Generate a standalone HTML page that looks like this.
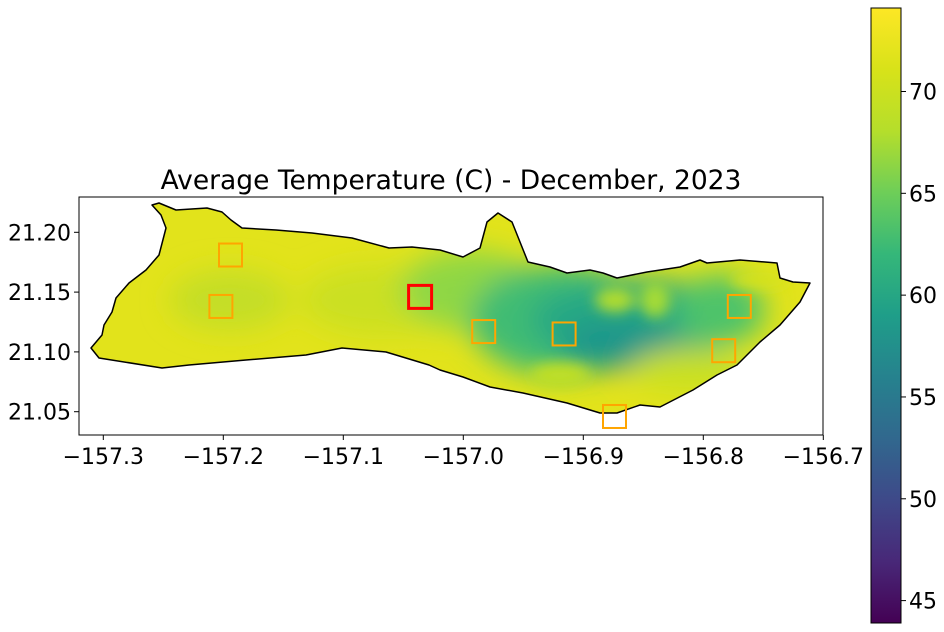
<!DOCTYPE html>
<html><head><meta charset="utf-8"><style>
html,body{margin:0;padding:0;background:#fff;}
svg{display:block;font-family:"DejaVu Sans","Liberation Sans",sans-serif;}
</style></head><body>
<svg id="chart" width="944" height="632" viewBox="0 0 944 632">
<defs>
<linearGradient id="viridis" x1="0" y1="1" x2="0" y2="0">
<stop offset="0" stop-color="#440154"/><stop offset="0.1" stop-color="#482878"/>
<stop offset="0.2" stop-color="#3e4989"/><stop offset="0.3" stop-color="#31688e"/>
<stop offset="0.4" stop-color="#26828e"/><stop offset="0.5" stop-color="#1f9e89"/>
<stop offset="0.6" stop-color="#35b779"/><stop offset="0.7" stop-color="#6ece58"/>
<stop offset="0.8" stop-color="#b5de2b"/><stop offset="0.9" stop-color="#d8e219"/>
<stop offset="1" stop-color="#fde725"/></linearGradient>
<clipPath id="island-clip"><path id="clip-path"/></clipPath>
<filter id="blur" x="-50%" y="-50%" width="200%" height="200%"><feGaussianBlur stdDeviation="14"/></filter>
<filter id="blur2" x="-50%" y="-50%" width="200%" height="200%"><feGaussianBlur stdDeviation="7"/></filter>
</defs>
<text x="451" y="189" font-size="26.5" text-anchor="middle">Average Temperature (C) - December, 2023</text>
<g id="map"></g>
<rect x="79" y="197" width="744" height="238" fill="none" stroke="#000" stroke-width="1"/>
<g id="xaxis"></g>
<g id="yaxis"></g>
<rect x="871" y="8" width="30" height="615" fill="url(#viridis)" stroke="#000" stroke-width="1"/>
<g id="cbaxis"></g>
</svg>
<script>
const xTicks=[-157.3,-157.2,-157.1,-157.0,-156.9,-156.8,-156.7];
const xTickLabels=["−157.3","−157.2","−157.1","−157.0","−156.9","−156.8","−156.7"];
const yTicks=[21.05,21.10,21.15,21.20];
const yTickLabels=["21.05","21.10","21.15","21.20"];
const cbTicks=[45,50,55,60,65,70];
const stationLon=[-157.194,-157.202,-156.983,-156.916,-156.874,-156.783,-156.770];
const stationLat=[21.181,21.138,21.117,21.115,21.046,21.101,21.138];
const selectedLon=[-157.036];
const selectedLat=[21.146];
const cbMin=43.9, cbMax=74.1;

const NS="http://www.w3.org/2000/svg";
const X=lon=>103.3+(lon+157.3)*1200;
const Y=lat=>232.3-(lat-21.20)*1196;
const CB=v=>623-(v-cbMin)/(cbMax-cbMin)*615;
function mk(tag,attrs,parent){const e=document.createElementNS(NS,tag);for(const k in attrs)e.setAttribute(k,attrs[k]);parent.appendChild(e);return e;}

const outline="M152,205 L159,203 L176,210 L207,208 L222,212 L231,220 L242,228 L276,230 L312,233 L352,238 L389,248 L412,247 L440,250 L463,257 L480,248 L487,222 L498,213 L512,222 L520,242 L528,262 L550,267 L567,273 L590,270 L603,273 L617,278 L647,272 L680,267 L700,260 L707,263 L740,260 L777,263 L780,278 L793,282 L810,283 L800,302 L780,325 L760,342 L737,365 L717,375 L693,390 L660,407 L640,405 L617,413 L600,413 L567,403 L523,393 L490,387 L463,377 L440,370 L429,365 L386,352 L342,348 L306,355 L246,360 L189,365 L162,368 L99,358 L91,348 L102,335 L104,325 L112,312 L116,298 L129,283 L146,270 L159,255 L166,228 L161,215 Z";
document.getElementById('clip-path').setAttribute('d',outline);
const map=document.getElementById('map');
const g=mk('g',{'clip-path':'url(#island-clip)'},map);
mk('rect',{x:80,y:198,width:742,height:236,fill:'#e2e31b'},g);
const blobs=mk('g',{filter:'url(#blur)'},g);
[[230,300,60,30,'#c4de28'],[380,300,80,35,'#cbe024'],[470,290,70,40,'#8fd744'],[560,320,90,55,'#3fbc73'],[640,320,110,40,'#27a884'],[620,345,60,25,'#1f968b'],[720,310,45,35,'#4ec36b'],[690,370,60,22,'#c8e020']].forEach(b=>{mk('ellipse',{cx:b[0],cy:b[1],rx:b[2],ry:b[3],fill:b[4]},blobs);});
const ridges=mk('g',{filter:'url(#blur2)'},g);
[[615,300,20,12,'#b2dd2d'],[655,300,15,18,'#a5db36'],[560,375,30,12,'#c0df25'],[760,280,30,8,'#d6e21a']].forEach(b=>{mk('ellipse',{cx:b[0],cy:b[1],rx:b[2],ry:b[3],fill:b[4]},ridges);});
const coast=mk('path',{d:outline,fill:'none',stroke:'#000','stroke-width':1.5,'stroke-linejoin':'round'},map);


const sq=23;
stationLon.forEach((lon,i)=>{const r=mk('rect',{x:X(lon)-sq/2,y:Y(stationLat[i])-sq/2,width:sq,height:sq,fill:'none',stroke:'#ffa500','stroke-width':2},map);

});
selectedLon.forEach((lon,i)=>{const r=mk('rect',{x:X(lon)-sq/2,y:Y(selectedLat[i])-sq/2,width:sq,height:sq,fill:'none',stroke:'#ff0000','stroke-width':3},map);

});

const xa=document.getElementById('xaxis');
xTicks.forEach((t,i)=>{const x=X(t);mk('line',{x1:x,y1:435,x2:x,y2:440,stroke:'#000'},xa);
const l=mk('text',{x:x,y:464,'font-size':22,'text-anchor':'middle'},xa);l.textContent=xTickLabels[i];

});
const ya=document.getElementById('yaxis');
yTicks.forEach((t,i)=>{const y=Y(t);mk('line',{x1:74,y1:y,x2:79,y2:y,stroke:'#000'},ya);
const l=mk('text',{x:71,y:y+8,'font-size':22,'text-anchor':'end'},ya);l.textContent=yTickLabels[i];

});
const ca=document.getElementById('cbaxis');
cbTicks.forEach(t=>{const y=CB(t);mk('line',{x1:901,y1:y,x2:906,y2:y,stroke:'#000'},ca);
const l=mk('text',{x:909,y:y+8,'font-size':22},ca);l.textContent=String(t);

});
</script>
</body></html>
